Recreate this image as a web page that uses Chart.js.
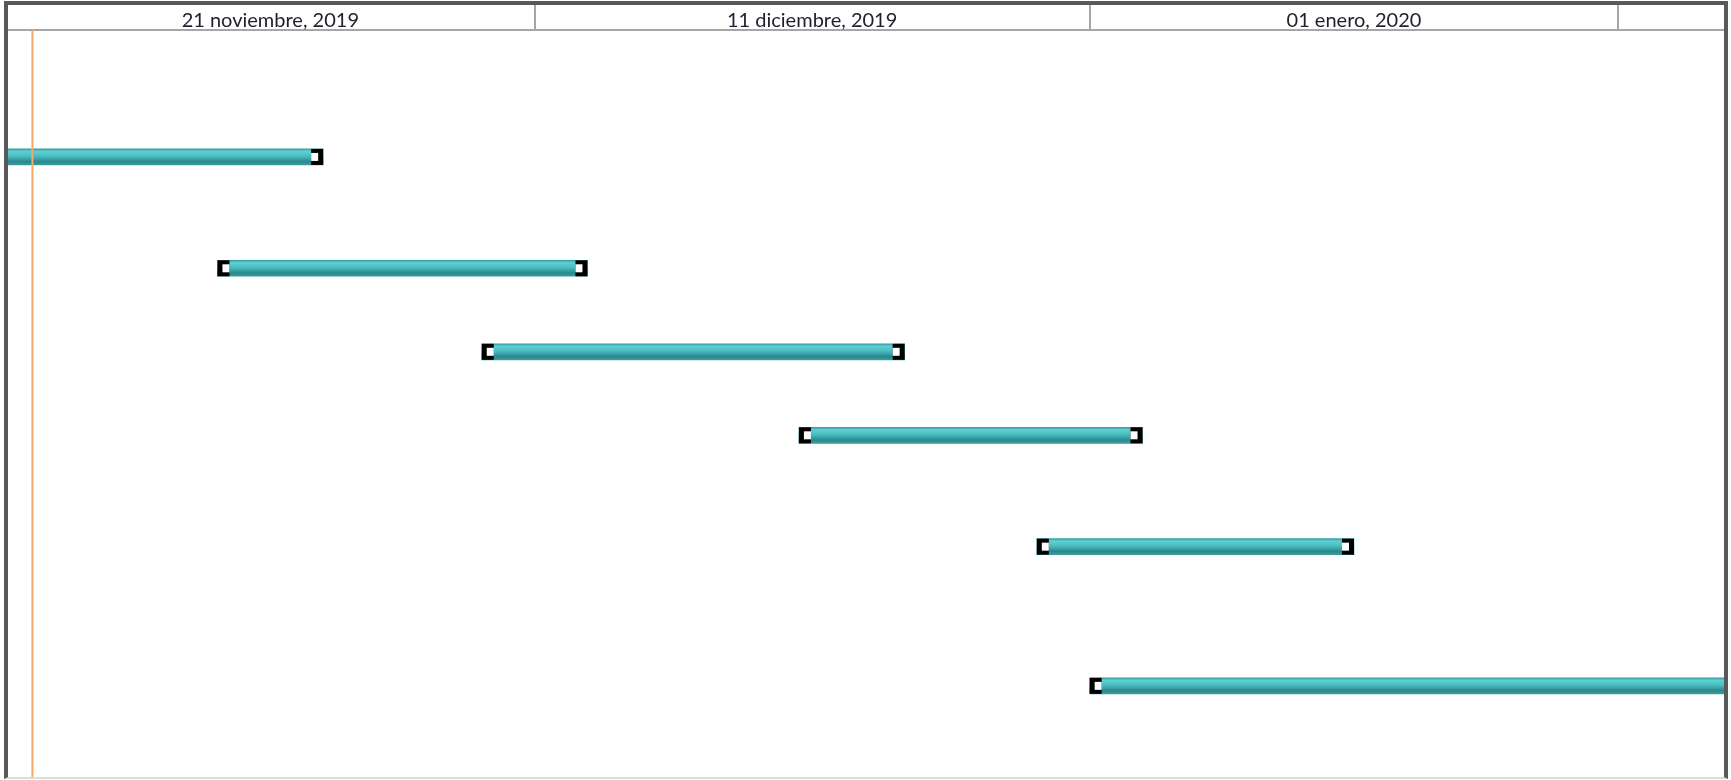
<!DOCTYPE html>
<html>
<head>
<meta charset="utf-8">
<script src="https://cdn.jsdelivr.net/npm/chart.js@4"></script>
<style>
  html, body { margin: 0; padding: 0; background: #fff; overflow: hidden; }
  #wrap { position: relative; width: 1731px; height: 780px; }
  #gantt { position: absolute; left: 0; top: 0; }
  #frame {
    position: absolute; left: 4px; top: 1px; width: 1716px; height: 772px;
    border: 4px solid #585858; border-bottom: 2px solid #dcdcdc;
    pointer-events: none;
  }
</style>
</head>
<body>
<div id="wrap">
  <canvas id="gantt" width="1731" height="780"></canvas>
  <div id="frame"></div>
</div>
<script>
// Visible window of the timeline
const viewStart = '2019-11-21';
const viewEnd = '2020-01-25';
const todayDate = '2019-11-22';

// Timescale header
const periodStarts = ['2019-11-21', '2019-12-11', '2020-01-01', '2020-01-21'];
const periodLabels = ['21 noviembre, 2019', '11 diciembre, 2019', '01 enero, 2020'];

// Tasks (row in the sheet, start, finish)
const taskRows = [5, 9, 12, 15, 19, 24];
const taskStarts = ['2019-11-14', '2019-11-29', '2019-12-09', '2019-12-21', '2019-12-30', '2020-01-01'];
const taskEnds = ['2019-12-03', '2019-12-13', '2019-12-25', '2020-01-03', '2020-01-11', '2020-02-14'];

// days counted from the first visible day
function dayOf(s) {
    let p = s.split('-').map(Number);
    let b = viewStart.split('-').map(Number);
    return (Date.UTC(p[0], p[1] - 1, p[2]) - Date.UTC(b[0], b[1] - 1, b[2])) / 864e5;
}

let boundaries = periodStarts.map(dayOf);
let centers = periodLabels.map((l, i) => (boundaries[i] + boundaries[i + 1]) / 2);

let bars = taskRows.map((r, i) => ({ x: [dayOf(taskStarts[i]), dayOf(taskEnds[i])], y: r }));

function barFill(ctx) {
    let chart = ctx.chart;
    if (!chart.chartArea || !ctx.raw) return '#45b9bd';
    let y = chart.scales.y.getPixelForValue(ctx.raw.y);
    let g = chart.ctx.createLinearGradient(0, y - 8, 0, y + 8);
    g.addColorStop(0, '#359da1');
    g.addColorStop(0.15, '#60cfd3');
    g.addColorStop(0.45, '#4abdc1');
    g.addColorStop(0.8, '#2b888c');
    g.addColorStop(1, '#3a9ca0');
    return g;
}

// black [ ] caps on each bar and the orange status line
const ganttExtras = {
    id: 'ganttExtras',
    afterDatasetsDraw(chart) {
        let ctx = chart.ctx;
        let area = chart.chartArea;
        ctx.save();
        ctx.beginPath();
        ctx.rect(area.left, area.top, area.right - area.left, area.bottom - area.top);
        ctx.clip();
        chart.getDatasetMeta(0).data.forEach(el => {
            let p = el.getProps(['x', 'base', 'y', 'height'], true);
            let left = Math.min(p.x, p.base);
            let right = Math.max(p.x, p.base);
            let top = p.y - p.height / 2;
            let h = p.height;
            let w = 12;
            ctx.fillStyle = '#000';
            ctx.fillRect(left, top, w, h);
            ctx.fillRect(right - w, top, w, h);
            ctx.fillStyle = '#fff';
            ctx.fillRect(left + 5, top + 4, w - 5, h - 8);
            ctx.fillRect(right - w, top + 4, w - 5, h - 8);
        });
        let tx = chart.scales.x.getPixelForValue(dayOf(todayDate));
        ctx.strokeStyle = '#f6a868';
        ctx.lineWidth = 2;
        ctx.beginPath();
        ctx.moveTo(tx, area.top);
        ctx.lineTo(tx, area.bottom);
        ctx.stroke();
        ctx.restore();
    }
};

new Chart(document.getElementById('gantt'), {
    type: 'bar',
    data: {
        datasets: [{
            data: bars,
            backgroundColor: barFill,
            borderWidth: 0,
            barThickness: 16
        }]
    },
    options: {
        indexAxis: 'y',
        responsive: false,
        animation: false,
        layout: { padding: { left: 6, right: 7, top: 5, bottom: 2 } },
        plugins: { legend: { display: false }, tooltip: { enabled: false } },
        scales: {
            x: {
                type: 'linear',
                position: 'top',
                min: 0,
                max: dayOf(viewEnd),
                afterBuildTicks: (scale) => {
                    let vals = boundaries.concat(centers).sort((a, b) => a - b);
                    scale.ticks = vals.map(v => ({ value: v }));
                },
                afterFit: (scale) => { scale.height = 25; },
                ticks: {
                    autoSkip: false,
                    maxRotation: 0,
                    padding: -28,
                    color: '#1f1f2e',
                    font: { family: 'Lato', size: 20 },
                    callback: (v) => {
                        let i = centers.indexOf(v);
                        return i >= 0 ? periodLabels[i] : '';
                    }
                },
                grid: {
                    drawOnChartArea: false,
                    tickLength: 25,
                    lineWidth: 2,
                    color: (c) => (c.tick && boundaries.includes(c.tick.value) && c.tick.value > 0) ? '#a6a6a6' : 'rgba(0,0,0,0)'
                },
                border: { display: true, color: '#a6a6a6', width: 2 }
            },
            y: {
                type: 'linear',
                display: false,
                reverse: true,
                offset: false,
                grid: { offset: false },
                min: 0.44,
                max: 27.31
            }
        }
    },
    plugins: [ganttExtras]
});
</script>
</body>
</html>
